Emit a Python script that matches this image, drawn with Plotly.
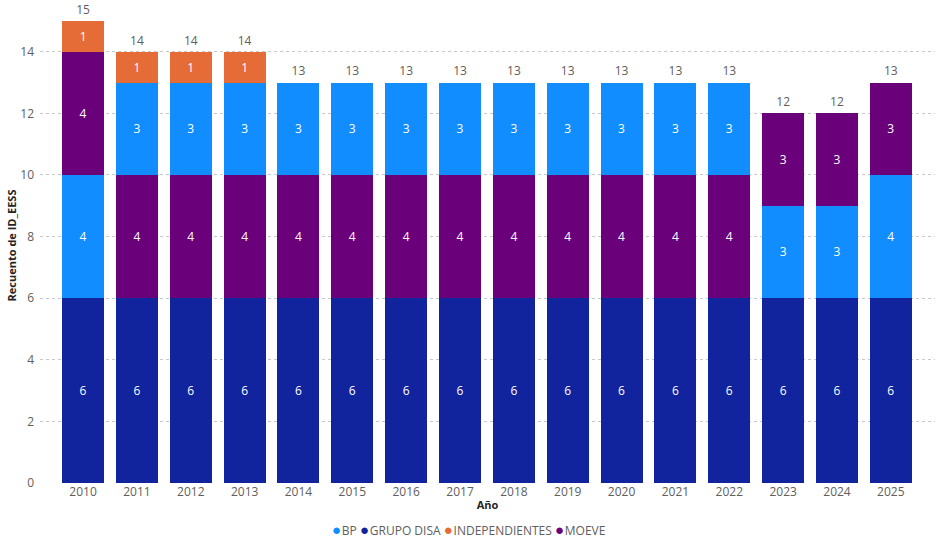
import plotly.graph_objects as go

# Recuento de estaciones por operador y año
years = [str(y) for y in range(2010, 2026)]
bp = [4, 3, 3, 3, 3, 3, 3, 3, 3, 3, 3, 3, 3, 3, 3, 4]
grupo_disa = [6, 6, 6, 6, 6, 6, 6, 6, 6, 6, 6, 6, 6, 6, 6, 6]
independientes = [1, 1, 1, 1, 0, 0, 0, 0, 0, 0, 0, 0, 0, 0, 0, 0]
moeve = [4, 4, 4, 4, 4, 4, 4, 4, 4, 4, 4, 4, 4, 3, 3, 3]

series = {
    "BP": bp,
    "GRUPO DISA": grupo_disa,
    "INDEPENDIENTES": independientes,
    "MOEVE": moeve,
}
colors = {
    "BP": "#118DFF",
    "GRUPO DISA": "#12239E",
    "INDEPENDIENTES": "#E66C37",
    "MOEVE": "#6B007B",
}
names = list(series)
totals = [sum(v[i] for v in series.values()) for i in range(len(years))]

FONT = "Segoe UI, Open Sans, sans-serif"

fig = go.Figure()

# Power BI ordena cada barra por valor (mayor abajo), empate por orden de leyenda
ranks = []
for i in range(len(years)):
    order = sorted([n for n in names if series[n][i] > 0],
                   key=lambda n: (-series[n][i], names.index(n)))
    ranks.append(order)

for level in range(len(names)):
    for n in names:
        ys = []
        for i in range(len(years)):
            if level < len(ranks[i]) and ranks[i][level] == n:
                ys.append(series[n][i])
            else:
                ys.append(None)
        if all(v is None for v in ys):
            continue
        fig.add_trace(go.Bar(
            x=years, y=ys, name=n, showlegend=False,
            marker=dict(color=colors[n], line=dict(width=0)),
            text=[str(v) if v is not None else "" for v in ys],
            textposition="inside", insidetextanchor="middle", textangle=0,
            textfont=dict(color="white", size=12, family=FONT),
            hovertemplate="%{x}<br>" + n + ": %{y}<extra></extra>",
        ))

# totales encima de cada barra (marcador invisible para separar el texto)
fig.add_trace(go.Scatter(
    x=years, y=totals, mode="markers+text", text=[str(t) for t in totals],
    marker=dict(size=5, opacity=0),
    textposition="top center", textfont=dict(color="#605E5C", size=12, family=FONT),
    showlegend=False, hoverinfo="skip", cliponaxis=False,
))

# leyenda compacta estilo Power BI
legend_txt = " ".join(
    '<span style="color:%s;font-size:15px">●</span><span style="font-size:3px"> </span>%s'
    % (colors[n], n) for n in names
)
fig.add_annotation(
    text=legend_txt, xref="paper", yref="paper", x=0.479, y=-0.097,
    xanchor="center", yanchor="middle", showarrow=False,
    font=dict(size=12, color="#605E5C", family=FONT),
)

fig.update_layout(
    width=936, height=538,
    barmode="stack", bargap=0.22,
    plot_bgcolor="white", paper_bgcolor="white",
    margin=dict(l=40, r=1, t=8, b=55, autoexpand=False),
    font=dict(family=FONT, color="#605E5C", size=12),
    showlegend=False,
)
fig.update_xaxes(
    type="category", range=[-0.8, 15.82], showgrid=False, showline=False,
    ticks="", tickangle=0, automargin=False,
    tickfont=dict(size=12, color="#605E5C"),
    title=dict(text="<b>Año</b>", font=dict(size=11, color="#252423"), standoff=2),
)
fig.update_yaxes(
    range=[0, 15.42], dtick=2, showgrid=True, gridcolor="#C8C8C8", griddash="dot",
    zeroline=False, showline=False, ticks="", automargin=False, ticklabelstandoff=5,
    tickfont=dict(size=12, color="#605E5C"),
    title=dict(text="<b>Recuento de ID_EESS</b>", font=dict(size=11, color="#252423"),
               standoff=1),
)

# sin el margen de 8px del body
fig.write_html("out.html", config={"displayModeBar": False},
               post_script="document.body.style.margin = '0';")
